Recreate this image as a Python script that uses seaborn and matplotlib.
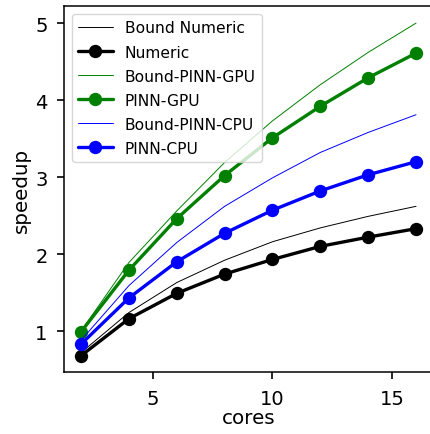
import numpy as np
import pandas as pd
import seaborn as sns
import matplotlib.pyplot as plt

cores = [2, 4, 6, 8, 10, 12, 14, 16]
numeric = [0.68, 1.16, 1.49, 1.74, 1.93, 2.10, 2.22, 2.33]
bound_numeric = [0.72, 1.24, 1.63, 1.92, 2.16, 2.34, 2.49, 2.62]
pinn_gpu = [0.99, 1.79, 2.46, 3.02, 3.51, 3.92, 4.29, 4.61]
bound_gpu = [1.0, 1.89, 2.56, 3.19, 3.73, 4.20, 4.62, 5.0]
pinn_cpu = [0.83, 1.43, 1.90, 2.27, 2.57, 2.82, 3.03, 3.20]
bound_cpu = [0.88, 1.59, 2.15, 2.62, 2.99, 3.32, 3.58, 3.81]

sns.set_style("ticks")
plt.rcParams["font.family"] = ["DejaVu Sans"]
plt.rcParams["text.color"] = "black"

fig = plt.figure(figsize=(4.3, 4.35), dpi=100)
ax = fig.add_axes([0.1495, 0.1418, 0.857, 0.841])

series = [
    ("Bound Numeric", bound_numeric, "k", False),
    ("Numeric", numeric, "k", True),
    ("Bound-PINN-GPU", bound_gpu, "g", False),
    ("PINN-GPU", pinn_gpu, "g", True),
    ("Bound-PINN-CPU", bound_cpu, "b", False),
    ("PINN-CPU", pinn_cpu, "b", True),
]
for name, vals, c, main in series:
    df = pd.DataFrame({"cores": cores, "speedup": vals})
    if main:
        sns.lineplot(data=df, x="cores", y="speedup", color=c, lw=2.4,
                     marker="o", markersize=9.6, markeredgewidth=0, label=name, ax=ax)
    else:
        sns.lineplot(data=df, x="cores", y="speedup", color=c, lw=0.7,
                     label=name, ax=ax)

for s in ax.spines.values():
    s.set_visible(True)
    s.set_color("black")
    s.set_linewidth(1.1)
ax.tick_params(axis="both", labelsize=14, length=5, width=1.2, pad=7,
               color="black", labelcolor="black")
ax.set_xlabel("cores", fontsize=14.3, color="black", labelpad=0)
ax.set_ylabel("speedup", fontsize=14.3, color="black", labelpad=3)
ax.set_xticks([5, 10, 15])
ax.set_yticks([1, 2, 3, 4, 5])
ax.set_xlim(1.3, 16.7)
ax.set_ylim(0.464, 5.216)
ax.legend(loc="upper left", fontsize=11.2, frameon=True, framealpha=0.8,
          edgecolor="#cccccc", handlelength=2.2, borderpad=0.4, labelspacing=0.58)

fig.savefig("out.png", dpi=100)
